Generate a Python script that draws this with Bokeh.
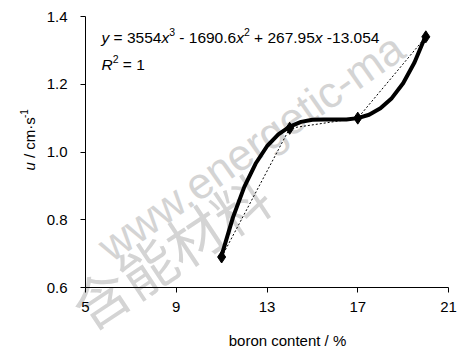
import math
from bokeh.plotting import figure
from bokeh.models import Range1d, FixedTicker, Label, PrintfTickFormatter
from bokeh.embed import file_html
from bokeh.resources import INLINE

# ---------------- data ----------------
boron = [11, 14, 17, 20]
velocity = [0.69, 1.07, 1.10, 1.34]

trend_boron = [11.0, 11.5, 12.0, 12.5, 13.0, 13.5, 14.0, 14.5, 15.0, 15.5,
               16.0, 16.5, 17.0, 17.5, 18.0, 18.5, 19.0, 19.5, 20.0]
trend_velocity = [0.695, 0.807, 0.897, 0.966, 1.017, 1.052, 1.075, 1.089, 1.095, 1.096,
                  1.096, 1.096, 1.100, 1.110, 1.129, 1.159, 1.203, 1.264, 1.344]

x_ticks = [5, 9, 13, 17, 21]
y_ticks = [0.6, 0.8, 1.0, 1.2, 1.4]
x_axis_range = (5, 21)
y_axis_range = (0.6, 1.4)

FONT = "Liberation Sans"
BLACK = "#000000"

# plot-area geometry in canvas pixels (axes box)
W_CANVAS, H_CANVAS = 459, 348
LEFT, TOP, RIGHT, BOTTOM = 85, 16, 448, 287

# the frame covers the whole canvas; ranges are widened so that the axes box lands where it should
ppx = (RIGHT - LEFT) / (x_axis_range[1] - x_axis_range[0])
ppy = (BOTTOM - TOP) / (y_axis_range[1] - y_axis_range[0])
x_range = Range1d(x_axis_range[0] - LEFT / ppx, x_axis_range[1] + (W_CANVAS - RIGHT) / ppx)
y_range = Range1d(y_axis_range[0] - (H_CANVAS - BOTTOM) / ppy, y_axis_range[1] + TOP / ppy)

p = figure(width=W_CANVAS, height=H_CANVAS, output_backend="svg", toolbar_location=None,
           x_range=x_range, y_range=y_range, min_border=0)
p.outline_line_color = None
p.grid.visible = False
p.background_fill_color = "white"
p.border_fill_color = "white"

p.xaxis.fixed_location = y_axis_range[0]
p.yaxis.fixed_location = x_axis_range[0]
p.xaxis.bounds = x_axis_range
p.yaxis.bounds = y_axis_range
p.xaxis.ticker = FixedTicker(ticks=x_ticks)
p.yaxis.ticker = FixedTicker(ticks=y_ticks)
p.yaxis.formatter = PrintfTickFormatter(format="%.1f")
for ax in (p.xaxis, p.yaxis):
    ax.axis_line_color = BLACK
    ax.axis_line_width = 1
    ax.major_tick_line_color = BLACK
    ax.major_tick_in = 0
    ax.major_tick_out = 5
    ax.minor_tick_line_color = None
    ax.major_label_text_font = FONT
    ax.major_label_text_font_size = "15px"
    ax.major_label_text_color = BLACK
p.yaxis.major_label_standoff = 13
p.xaxis.major_label_standoff = 9


def sx(x):
    return x


def sy(y):
    return H_CANVAS - y


WATER = "#d4d4d4"
# watermark (behind everything)
p.add_layout(Label(x=sx(102), y=sy(250), x_units="screen", y_units="screen",
                   text="www.energetic-ma", angle=math.radians(35),
                   text_font=FONT, text_font_size="44px", text_color=WATER,
                   text_baseline="alphabetic", level="underlay"))
p.add_layout(Label(x=sx(98), y=sy(345), x_units="screen", y_units="screen",
                   text="含能材料", angle=math.radians(33.6),
                   text_font="Noto Sans CJK SC", text_font_size="56px", text_color=WATER,
                   level="underlay"))

# ---------------- marks ----------------
p.line(trend_boron, trend_velocity, line_width=4, line_color=BLACK,
       line_join="round", line_cap="round")
p.line(boron, velocity, line_width=1, line_color=BLACK, line_dash="2 2")
p.scatter(boron, velocity, marker="diamond", size=12, fill_color=BLACK, line_color=BLACK)

# ---------------- rich text helpers ----------------
EM = {" ": .278, "=": .584, "+": .584, "-": .333, ".": .278, "x": .5, "y": .5,
      "R": .722, "u": .556, "/": .278, "c": .5, "m": .833, "s": .5, "·": .278}


def width(s, size):
    return sum(EM.get(ch, .556) for ch in s) * size


def rich(pieces, x0, y0, size, sup_size, sup_rise, angle=0.0):
    """pieces: (text, italic, superscript). x0,y0 canvas px of the baseline start."""
    pos = 0.0
    ca, sa = math.cos(angle), math.sin(angle)
    for text, italic, sup in pieces:
        fs = sup_size if sup else size
        rise = sup_rise if sup else 0
        core = text.strip()
        lead = len(text) - len(text.lstrip())
        trail = len(text) - len(text.rstrip())
        pos += width(" " * lead, fs)
        px = x0 + pos * ca - rise * sa
        py = y0 - pos * sa - rise * ca
        p.add_layout(Label(x=sx(px), y=sy(py), x_units="screen", y_units="screen",
                           text=core, angle=angle, text_font=FONT,
                           text_font_size=f"{fs}px", text_color=BLACK,
                           text_font_style="italic" if italic else "normal",
                           text_baseline="alphabetic", text_align="left"))
        pos += width(core, fs) + width(" " * trail, fs)


eq = [("y", True, False), (" = 3554", False, False), ("x", True, False), ("3", False, True),
      (" - 1690.6", False, False), ("x", True, False), ("2", False, True),
      (" + 267.95", False, False), ("x", True, False), (" -13.054", False, False)]
rich(eq, 101, 37, 15.5, 10.5, 6)
rich([("R", True, False), ("2", False, True), (" = 1", False, False)], 101, 64, 15.5, 10.5, 6)

# y-axis title (rotated)
rich([("u", True, False), (" / cm·s", False, False), ("-1", False, True)],
     29, 170, 15, 10, 6, angle=math.pi / 2)

# x-axis title
p.add_layout(Label(x=sx(287), y=sy(340), x_units="screen", y_units="screen",
                   text="boron content / %", text_font=FONT, text_font_size="15px",
                   text_color=BLACK, text_align="center", text_baseline="alphabetic"))

open("out.html", "w").write(file_html(p, INLINE))
